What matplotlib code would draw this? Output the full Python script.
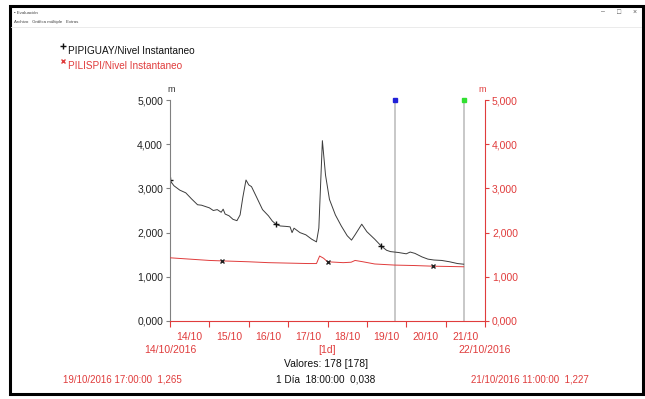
"""Evaluación: nivel instantáneo PIPIGUAY / PILISPI."""
import matplotlib
matplotlib.use("Agg")
import matplotlib.pyplot as plt
from matplotlib.lines import Line2D
from matplotlib.patches import Rectangle
from matplotlib.ticker import FixedLocator, FuncFormatter, NullFormatter

plt.rcParams['font.family'] = ['Liberation Sans', 'DejaVu Sans']

W, H = 645, 399
RED = '#e03c3c'
BLACK_LINE = '#3c3c3c'
GREY = '#808080'

# tiempo en días desde 14/10/2016 00:00, nivel en m
pipiguay_t = [0.0, 0.1, 0.25, 0.4, 0.55, 0.7, 0.8, 0.9, 1.0, 1.1, 1.2, 1.3, 1.35,
              1.4, 1.5, 1.6, 1.7, 1.78, 1.85, 1.93, 2.0, 2.07, 2.2, 2.35, 2.5,
              2.6, 2.69, 2.8, 2.95, 3.05, 3.1, 3.15, 3.3, 3.45, 3.6, 3.72, 3.78,
              3.87, 3.95, 4.05, 4.2, 4.35, 4.5, 4.61, 4.7, 4.87, 5.0, 5.2, 5.36,
              5.5, 5.6, 5.8, 6.0, 6.1, 6.22, 6.4, 6.55, 6.7, 6.9, 7.1, 7.3, 7.458]
pipiguay_v = [3.18, 3.06, 2.96, 2.90, 2.76, 2.63, 2.62, 2.59, 2.56, 2.50, 2.52, 2.46, 2.53,
              2.42, 2.38, 2.30, 2.27, 2.40, 2.80, 3.19, 3.08, 3.04, 2.80, 2.52, 2.38,
              2.26, 2.19, 2.15, 2.14, 2.13, 2.00, 2.10, 2.00, 1.95, 1.85, 1.79, 2.10,
              4.08, 3.30, 2.75, 2.40, 2.15, 1.93, 1.83, 1.95, 2.19, 2.02, 1.85, 1.70,
              1.60, 1.57, 1.55, 1.52, 1.56, 1.53, 1.45, 1.40, 1.38, 1.37, 1.34, 1.30, 1.285]

pilispi_t = [0.0, 0.5, 1.0, 1.32, 2.0, 2.5, 3.0, 3.5, 3.72, 3.8, 3.9, 4.0, 4.4,
             4.6, 4.7, 4.9, 5.2, 5.708, 6.2, 6.68, 7.0, 7.458]
pilispi_v = [1.43, 1.40, 1.37, 1.36, 1.34, 1.32, 1.31, 1.30, 1.30, 1.47, 1.42, 1.34, 1.32,
             1.33, 1.37, 1.34, 1.29, 1.265, 1.255, 1.24, 1.235, 1.227]

# marcas de serie
pipiguay_mark_t = [0.0, 2.69, 5.36]
pipiguay_mark_v = [3.18, 2.19, 1.70]
pilispi_mark_t = [1.32, 4.0, 6.68]
pilispi_mark_v = [1.36, 1.34, 1.24]

day_labels = ['14/10', '15/10', '16/10', '17/10', '18/10', '19/10', '20/10', '21/10']
y_ticks = [0, 1, 2, 3, 4, 5]

# cursores: 19/10/2016 17:00 y 21/10/2016 11:00
cursor_t = [5 + 17 / 24, 7 + 11 / 24]
cursor_v = [1.265, 1.227]
cursor_labels = ['19/10/2016 17:00:00', '21/10/2016 11:00:00']
cursor_colors = ['#2020d8', '#30e030']


def fx(x):
    return x / W


def fy(y):
    return 1 - y / H


def fmt_m(v, pos=None):
    return f"{v:.3f}".replace('.', ',')


fig = plt.figure(figsize=(W / 100, H / 100), dpi=100)
fig.patch.set_facecolor('white')

ax = fig.add_axes([fx(170), fy(321), 315 / W, 221 / H])
ax2 = ax.twinx()

ax.plot(pipiguay_t, pipiguay_v, color=BLACK_LINE, linewidth=0.7)
ax.plot(pipiguay_mark_t, pipiguay_mark_v, linestyle='none', marker='+',
        color='#111111', markersize=4, markeredgewidth=1.0)
ax2.plot(pilispi_t, pilispi_v, color=RED, linewidth=0.7)
ax2.plot(pilispi_mark_t, pilispi_mark_v, linestyle='none', marker='x',
         color='#222222', markersize=3, markeredgewidth=1.0)

# cursores
for t, c in zip(cursor_t, cursor_colors):
    ax.axvline(t, color='#c4c4c4', linewidth=1.3, zorder=1)
    ax.plot([t], [5], marker='s', markersize=3, color=c, clip_on=False, zorder=5)

for a in (ax, ax2):
    a.set_xlim(0, 8)
    a.set_ylim(0, 5)
    a.spines['top'].set_visible(False)

ax.spines['right'].set_visible(False)
ax2.spines['left'].set_visible(False)
ax.spines['left'].set_color(GREY)
ax.spines['bottom'].set_color(RED)
ax2.spines['right'].set_color(RED)
ax2.spines['bottom'].set_visible(False)
for s in ('left', 'bottom'):
    ax.spines[s].set_linewidth(0.8)
ax2.spines['right'].set_linewidth(0.8)

ax.yaxis.set_major_locator(FixedLocator(y_ticks))
ax.yaxis.set_major_formatter(FuncFormatter(fmt_m))
ax.tick_params(axis='y', colors=GREY, labelcolor='#222222', labelsize=7.5,
               length=3, width=0.8, pad=2)
ax2.yaxis.set_major_locator(FixedLocator(y_ticks))
ax2.yaxis.set_major_formatter(FuncFormatter(fmt_m))
ax2.tick_params(axis='y', colors=RED, labelcolor=RED, labelsize=7.5,
                length=3, width=0.8, pad=2)

ax.xaxis.set_major_locator(FixedLocator(range(9)))
ax.xaxis.set_major_formatter(NullFormatter())
ax.xaxis.set_minor_locator(FixedLocator([d + 0.5 for d in range(len(day_labels))]))
ax.xaxis.set_minor_formatter(FuncFormatter(lambda v, p: day_labels[int(v)]))
ax.tick_params(axis='x', which='major', colors=RED, length=4, width=0.8)
ax.tick_params(axis='x', which='minor', length=0, labelcolor=RED,
               labelsize=7.5, pad=8)

# unidades
fig.text(fx(171), fy(89), 'm', ha='center', va='center', fontsize=6.5, color='#333333')
fig.text(fx(482), fy(89), 'm', ha='center', va='center', fontsize=6.5, color=RED)

# leyenda
fig.add_artist(Line2D([fx(63)], [fy(46)], marker='+', color='#111111',
                      markersize=4, markeredgewidth=1.0, transform=fig.transFigure))
fig.add_artist(Line2D([fx(63)], [fy(61)], marker='x', color=RED,
                      markersize=3, markeredgewidth=1.0, transform=fig.transFigure))
fig.text(fx(68), fy(51), 'PIPIGUAY/Nivel Instantaneo', va='center', fontsize=7.2,
         color='#111111')
fig.text(fx(68), fy(66), 'PILISPI/Nivel Instantaneo', va='center', fontsize=7.2,
         color=RED)

# textos inferiores
fig.text(fx(170), fy(350), '14/10/2016', ha='center', va='center', fontsize=7.5, color=RED)
fig.text(fx(485), fy(350), '22/10/2016', ha='center', va='center', fontsize=7.5, color=RED)
fig.text(fx(327), fy(350), '[1d]', ha='center', va='center', fontsize=7.5, color=RED)
fig.text(fx(326), fy(364), f'Valores: {178} [{178}]', ha='center', va='center',
         fontsize=7.5, color='#111111')
dt = cursor_t[1] - cursor_t[0]
dias = int(dt)
horas = round((dt - dias) * 24)
dv = round(cursor_v[0] - cursor_v[1], 3)
fig.text(fx(326), fy(379), f'{dias} Día  {horas:02d}:00:00  {fmt_m(dv)}',
         ha='center', va='center', fontsize=7.2, color='#111111')
fig.text(fx(63), fy(379), f'{cursor_labels[0]}  {fmt_m(cursor_v[0])}', ha='left',
         va='center', fontsize=7, color=RED)
fig.text(fx(589), fy(379), f'{cursor_labels[1]}  {fmt_m(cursor_v[1])}', ha='right',
         va='center', fontsize=7, color=RED)

# marco de ventana
fig.add_artist(Rectangle((fx(10), fy(394)), (643 - 10) / W, (394 - 6) / H,
                         fill=False, edgecolor='black', linewidth=2.2,
                         transform=fig.transFigure))
fig.add_artist(Line2D([fx(11), fx(641)], [fy(27), fy(27)], color='#e8e8e8',
                      linewidth=0.6, transform=fig.transFigure))
fig.text(fx(14), fy(13), '▪ Evaluación', va='center', fontsize=3.2, color='#444444')
fig.text(fx(14), fy(22), 'Archivo   Gráfica múltiple   Extras', va='center',
         fontsize=3.2, color='#444444')
fig.text(fx(603), fy(12), '–', ha='center', va='center', fontsize=5, color='#555555')
fig.text(fx(619), fy(12), '□', ha='center', va='center', fontsize=5, color='#555555')
fig.text(fx(635), fy(12), '×', ha='center', va='center', fontsize=5, color='#555555')

fig.savefig('out.png', dpi=100)
